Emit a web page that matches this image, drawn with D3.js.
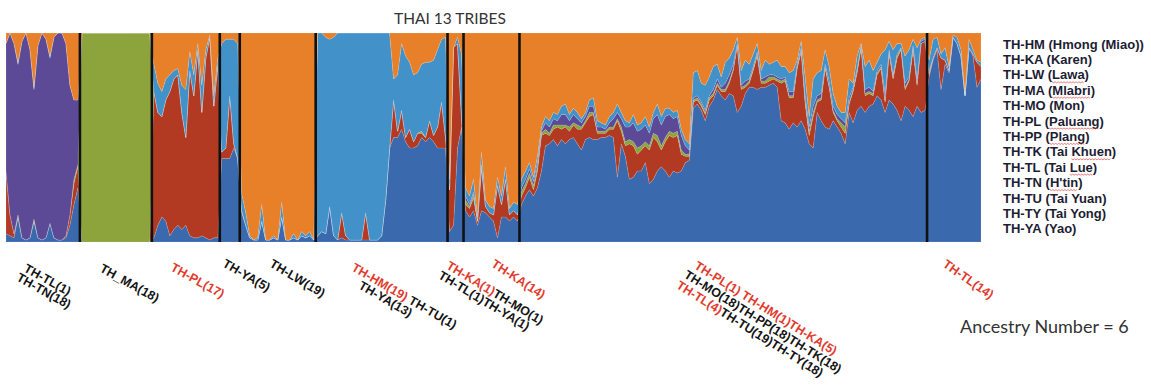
<!DOCTYPE html>
<html>
<head>
<meta charset="utf-8">
<script src="https://cdn.jsdelivr.net/npm/d3@7"></script>
<style>
  body { margin: 0; background: #fff; }
  svg { display: block; }
</style>
</head>
<body>
<svg id="chart" width="1151" height="391"></svg>
<script>
// Ancestry components, in stacking order from the bottom up
const ancestryKeys = ["darkBlue", "red", "green", "purple", "lightBlue", "orange"];
const ancestryColors = ["#3b69ae", "#b23a22", "#8ca43b", "#5d4a97", "#4291c8", "#e8802a"];

// Per-individual ancestry proportions (%), columns follow ancestryKeys
const qTN = [
  [4,30,0,61,0,5],[3,10,0,87,0,0],[2,2,0,91,0,5],[12,0,1,72,1,14],[2,0,0,94,0,4],
  [1,0,0,99,0,0],[2,0,0,90,0,8],[10,0,1,62,1,26],[2,0,0,92,0,6],[1,0,0,99,0,0],
  [2,0,0,95,0,3],[9,0,0,79,1,11],[2,0,0,96,0,2],[1,0,0,99,0,0],[1,0,0,99,0,0],
  [2,1,0,92,0,5],[8,5,0,62,0,25],[18,10,2,38,0,32],[26,10,1,31,0,32]
];
const qMA = [
  [0,0,100,0,0,0],[0,0,100,0,0,0],[0,0,100,0,0,0],[0,0,100,0,0,0],[0,0,100,0,0,0],
  [0,0,100,0,0,0],[0,0,100,0,0,0],[0,0,100,0,0,0],[0,0,100,0,0,0],[0,0,100,0,0,0],
  [0,0,100,0,0,0],[0,0,100,0,0,0],[0,0,100,0,0,0],[0,0,100,0,0,0],[0,0,100,0,0,0],
  [0,0,100,0,0,0],[0,0,100,0,0,0],[0,0,100,0,0,0]
];
const qPL = [
  [2,70,0,0,13,15],[8,54,0,0,14,24],[12,48,0,0,12,28],[10,58,0,0,10,22],[3,69,0,0,8,20],
  [6,72,0,0,4,18],[8,72,0,0,3,17],[6,56,0,0,13,25],[8,42,0,0,23,27],[3,79,0,0,9,9],
  [2,68,0,0,10,20],[2,90,0,0,3,5],[3,59,0,0,13,25],[2,86,0,0,4,8],[1,97,0,0,1,1],
  [2,63,0,0,5,30],[2,83,0,0,3,12]
];
const qYA = [
  [40,3,0,0,52,5],[40,5,0,0,52,3],[40,30,0,0,27,3],[45,2,0,0,50,3],[40,0,0,0,55,5]
];
const qLW = [
  [14,1,0,0,8,77],[8,0,0,0,6,86],[2,0,0,0,1,97],[1,0,0,0,0,99],[1,0,0,0,1,98],
  [10,0,0,0,8,82],[1,0,0,0,0,99],[1,0,0,0,0,99],[2,0,0,0,1,97],[1,0,0,0,0,99],
  [12,0,0,0,7,81],[1,0,0,0,0,99],[1,0,0,0,0,99],[2,0,0,0,2,96],[1,0,0,0,0,99],
  [3,0,0,0,2,95],[2,0,0,0,1,97],[3,0,0,0,2,95],[1,0,0,0,0,99]
];
const qHMYATU = [
  [3,0,0,0,97,0],[5,0,0,0,95,0],[4,0,0,0,94,2],[17,0,0,0,80,3],[3,0,0,0,95,2],
  [1,0,0,0,99,0],[2,12,0,0,86,0],[1,2,0,0,97,0],[1,0,0,0,99,0],[1,0,0,0,99,0],
  [1,0,0,0,99,0],[1,0,0,0,99,0],[1,13,0,0,86,0],[1,0,0,0,99,0],[1,0,0,0,99,0],
  [1,0,0,0,99,0],[3,0,0,0,97,0],[20,0,0,0,80,0],[45,0,0,0,55,0],
  [50,18,0,0,10,22],[50,3,0,0,27,20],[54,9,0,0,32,5],[48,2,0,0,39,11],[45,9,0,0,32,14],
  [45,3,0,0,32,20],[46,6,0,0,29,19],[50,2,1,0,32,15],[48,2,0,0,36,14],[50,8,0,0,28,14],
  [48,3,0,0,36,13],[45,10,0,0,37,8],[45,22,0,0,30,3],[45,5,0,0,48,2]
];
const qMixed4 = [
  [5,20,0,0,5,70],[8,85,0,0,0,7],[45,50,0,0,3,2],[55,5,0,0,30,10]
];
const qKA = [
  [15,3,2,2,4,74],[12,4,1,1,4,78],[15,6,2,1,6,70],[8,2,0,0,2,88],[15,20,1,1,6,57],
  [14,3,0,0,3,80],[12,2,0,0,3,83],[10,3,0,0,3,84],[2,25,0,0,4,69],[12,6,0,0,4,78],
  [12,18,0,0,6,64],[10,3,0,0,3,84],[12,3,0,0,4,81],[10,3,0,0,5,82]
];
const qTai = [
  [18,4,2,2,4,70],[22,4,2,2,4,66],[25,6,2,2,3,62],[22,3,2,2,2,69],[26,8,2,2,3,59],
  [34,17,1,1,2,45],[46,6,2,3,3,40],[47,4,1,3,3,42],[49,5,2,3,3,38],[46,9,1,2,3,39],
  [49,5,2,5,4,35],[47,8,1,5,5,34],[49,4,2,3,3,39],[50,6,1,4,3,36],[47,7,2,3,3,38],
  [44,10,1,2,2,41],[49,8,1,2,2,38],[50,10,2,3,3,32],[49,12,1,3,4,31],[49,3,1,2,3,42],
  [50,2,1,2,2,43],[50,2,1,1,2,44],[51,3,1,2,3,40],[50,4,1,4,3,38],[31,27,1,3,4,34],
  [47,6,2,4,3,38],[41,5,2,7,3,42],[30,17,2,6,2,43],[31,15,2,9,4,39],[34,8,3,8,3,44],
  [34,10,2,8,3,43],[38,8,2,8,4,40],[28,16,2,6,3,45],[30,20,2,7,3,38],[34,14,3,10,5,34],
  [36,8,2,10,4,40],[34,14,2,10,4,36],[31,20,2,8,3,36],[34,16,2,7,3,38],[33,18,2,7,3,37],
  [34,8,2,7,3,46],[38,3,1,4,3,51],[39,2,1,2,3,53],[64,3,1,1,12,19],[66,2,1,1,12,18],
  [63,2,1,1,9,24],[58,3,1,1,12,25],[65,3,1,1,9,21],[68,2,1,2,11,16],[73,2,1,2,7,15],
  [70,2,1,1,5,21],[68,4,1,3,10,14],[71,5,1,3,8,12],[70,12,1,2,7,8],[62,32,0,1,3,2],
  [65,8,1,1,7,18],[71,3,1,2,10,13],[74,2,1,1,7,15],[74,8,1,1,6,10],[73,16,1,1,4,5],
  [74,2,1,1,4,18],[74,2,1,2,8,13],[75,2,2,1,5,15],[76,2,1,1,6,14],[74,3,1,1,8,13],
  [58,18,1,1,6,16],[57,20,1,1,5,16],[54,15,1,2,9,19],[57,12,1,2,10,18],[55,28,1,1,2,13],
  [58,33,1,1,3,4],[54,12,2,2,9,21],[47,4,2,2,5,40],[45,15,2,3,13,22],[62,5,1,2,11,19],
  [58,10,1,2,11,18],[55,28,1,1,7,8],[54,20,1,2,7,16],[58,4,1,2,6,29],[55,3,1,2,4,35],
  [52,3,2,2,3,38],[47,5,3,2,5,38],[62,4,1,2,9,22],[57,15,1,1,2,24],[63,18,1,1,6,11],
  [65,28,1,0,1,5],[62,8,1,2,11,16],[65,6,1,2,13,13],[66,4,1,1,10,18],[70,10,1,1,4,14],
  [68,15,1,1,5,10],[62,5,1,3,21,8],[68,22,1,1,4,4],[66,12,1,1,12,8],[63,25,1,1,5,5],
  [58,34,1,0,2,5],[65,8,1,2,13,11],[63,14,1,1,13,8],[60,32,1,1,3,3],[65,10,1,2,15,7],
  [62,33,0,1,1,3],[63,33,0,1,1,2]
];
const qTL = [
  [79,1,1,1,5,13],[87,1,0,0,9,3],[92,1,0,0,5,2],[73,15,0,0,2,10],[85,2,0,0,6,7],
  [81,1,0,0,2,16],[98,0,0,0,1,1],[95,0,0,0,3,2],[89,0,0,0,3,8],[70,0,0,0,1,29],
  [93,0,0,0,4,3],[89,1,0,0,2,8],[74,12,0,0,1,13],[78,6,0,0,2,14]
];

// Population blocks in plotting order, and the labels written under each
const populationBlocks = [qTN, qMA, qPL, qYA, qLW, qHMYATU, qMixed4, qKA, qTai, qTL];
const blockLabels = [
  [[["TH-TL(1)", "k"]], [["TH-TN(18)", "k"]]],
  [[["TH_MA(18)", "k"]]],
  [[["TH-PL(17)", "r"]]],
  [[["TH-YA(5)", "k"]]],
  [[["TH-LW(19)", "k"]]],
  [[["TH-HM(19)", "r"], [" TH-TU(1)", "k"]], [["TH-YA(13)", "k"]]],
  [[["TH-KA(1)", "r"], ["TH-MO(1)", "k"]], [["TH-TL(1)TH-YA(1)", "k"]]],
  [[["TH-KA(14)", "r"]]],
  [[["TH-PL(1) TH-HM(1)TH-KA(5)", "r"]],
   [["TH-MO(18)TH-PP(18)TH-TK(18)", "k"]],
   [["TH-TL(4)", "r"], ["TH-TU(19)TH-TY(18)", "k"]]],
  [[["TH-TL(14)", "r"]]]
];

// Legend entries: code and name, with words flagged by the spell checker
const legendEntries = [
  ["TH-HM", "Hmong (Miao)", null],
  ["TH-KA", "Karen", null],
  ["TH-LW", "Lawa", "Lawa"],
  ["TH-MA", "Mlabri", "Mlabri"],
  ["TH-MO", "Mon", null],
  ["TH-PL", "Paluang", "Paluang"],
  ["TH-PP", "Plang", "Plang"],
  ["TH-TK", "Tai Khuen", "Khuen"],
  ["TH-TL", "Tai Lue", "Lue"],
  ["TH-TN", "H'tin", "H'tin"],
  ["TH-TU", "Tai Yuan", null],
  ["TH-TY", "Tai Yong", null],
  ["TH-YA", "Yao", null]
];

const chartTitle = "THAI 13 TRIBES";
const ancestryNote = "Ancestry Number = 6";

// ---------- layout ----------
const plot = { left: 6, right: 981, top: 33, bottom: 242 };
const labelColor = { k: "#141414", r: "#e23b2e" };
// label placement relative to the first individual of each block
const labelLayout = [
  { dx: 17, y: 271, angle: 29, lh: 11.5, indent: [0, -2] },
  { dx: 17, y: 271, angle: 29, lh: 12, indent: [0] },
  { dx: 16, y: 270, angle: 29, lh: 12, indent: [0] },
  { dx: 0, y: 266, angle: 30, lh: 12, indent: [0] },
  { dx: 27, y: 266, angle: 31, lh: 12, indent: [0] },
  { dx: 33, y: 270, angle: 30, lh: 12, indent: [0, 15] },
  { dx: -4, y: 268, angle: 31, lh: 12.5, indent: [0, -2] },
  { dx: 25, y: 266, angle: 33, lh: 12, indent: [0] },
  { dx: 172, y: 268, angle: 32, lh: 13, indent: [0, -4, -5] },
  { dx: 13, y: 266, angle: 35, lh: 12, indent: [0] }
];

// ---------- data assembly ----------
const individuals = [];
const blockStart = [];
populationBlocks.forEach(rows => {
  blockStart.push(individuals.length);
  rows.forEach(r => {
    const o = {};
    ancestryKeys.forEach((k, i) => { o[k] = r[i]; });
    individuals.push(o);
  });
});
const N = individuals.length;

const svg = d3.select("#chart");

const x = d3.scaleLinear().domain([0, N - 1]).range([plot.left, plot.right]);
const y = d3.scaleLinear().domain([0, 100]).range([plot.bottom, plot.top]);
const color = d3.scaleOrdinal().domain(ancestryKeys).range(ancestryColors);

const series = d3.stack().keys(ancestryKeys)(individuals);

const area = d3.area()
  .x((d, i) => x(i))
  .y0(d => y(d[0]))
  .y1(d => y(d[1]))
  .curve(d3.curveLinear);

svg.append("g")
  .selectAll("path")
  .data(series)
  .join("path")
  .attr("fill", d => color(d.key))
  .attr("stroke", "rgba(255,255,255,0.25)")
  .attr("stroke-width", 0.5)
  .attr("d", area);

// black separators between population blocks
svg.append("g")
  .selectAll("line")
  .data(blockStart.slice(1))
  .join("line")
  .attr("x1", b => x(b - 0.5))
  .attr("x2", b => x(b - 0.5))
  .attr("y1", y(100))
  .attr("y2", y(0))
  .attr("stroke", "#111")
  .attr("stroke-width", 2.6);

// title
svg.append("text")
  .attr("x", 450)
  .attr("y", 24)
  .attr("text-anchor", "middle")
  .attr("font-family", "Lato, 'Open Sans', sans-serif")
  .attr("font-size", 15.5)
  .attr("fill", "#333")
  .text(chartTitle);

// rotated population labels
const labelsG = svg.append("g")
  .attr("font-family", "'Liberation Sans', Arial, sans-serif")
  .attr("font-weight", "bold")
  .attr("font-size", 12.5);

blockLabels.forEach((lines, bi) => {
  const L = labelLayout[bi];
  const g = labelsG.append("g")
    .attr("transform", `translate(${x(blockStart[bi]) + L.dx},${L.y}) rotate(${L.angle})`);
  lines.forEach((segs, li) => {
    const t = g.append("text")
      .attr("x", L.indent[li] || 0)
      .attr("y", li * L.lh)
      .attr("xml:space", "preserve");
    segs.forEach(([txt, c]) => {
      t.append("tspan").attr("fill", labelColor[c]).text(txt);
    });
  });
});

// legend
const legendG = svg.append("g")
  .attr("font-family", "'Liberation Sans', Arial, sans-serif")
  .attr("font-weight", "bold")
  .attr("font-size", 13)
  .attr("fill", "#1d1d33");

legendEntries.forEach(([code, name, flagged], i) => {
  const ty = 48.5 + i * 15.4;
  const t = legendG.append("text").attr("x", 1003).attr("y", ty);
  t.append("tspan").text(code + " (");
  let flaggedSpan = null;
  if (flagged) {
    const pos = name.indexOf(flagged);
    if (pos > 0) t.append("tspan").text(name.slice(0, pos));
    flaggedSpan = t.append("tspan").text(flagged);
    const rest = name.slice(pos + flagged.length);
    if (rest) t.append("tspan").text(rest);
  } else {
    t.append("tspan").text(name);
  }
  t.append("tspan").text(")");
  if (flaggedSpan) {
    // red wavy spell-check underline beneath the flagged word
    const node = flaggedSpan.node();
    const x0 = node.getStartPositionOfChar(0).x;
    const w = node.getComputedTextLength();
    const pts = [];
    for (let px = 0; px <= w; px += 1.5) {
      pts.push([x0 + px, ty + 2.5 + ((Math.round(px / 1.5) % 2) ? 1 : 0)]);
    }
    legendG.append("path")
      .attr("d", d3.line()(pts))
      .attr("fill", "none")
      .attr("stroke", "#e04040")
      .attr("stroke-width", 0.7);
  }
});

// ancestry count note
svg.append("text")
  .attr("x", 960)
  .attr("y", 333)
  .attr("font-family", "Lato, 'Open Sans', sans-serif")
  .attr("font-size", 18)
  .attr("fill", "#333")
  .text(ancestryNote);
</script>
</body>
</html>
